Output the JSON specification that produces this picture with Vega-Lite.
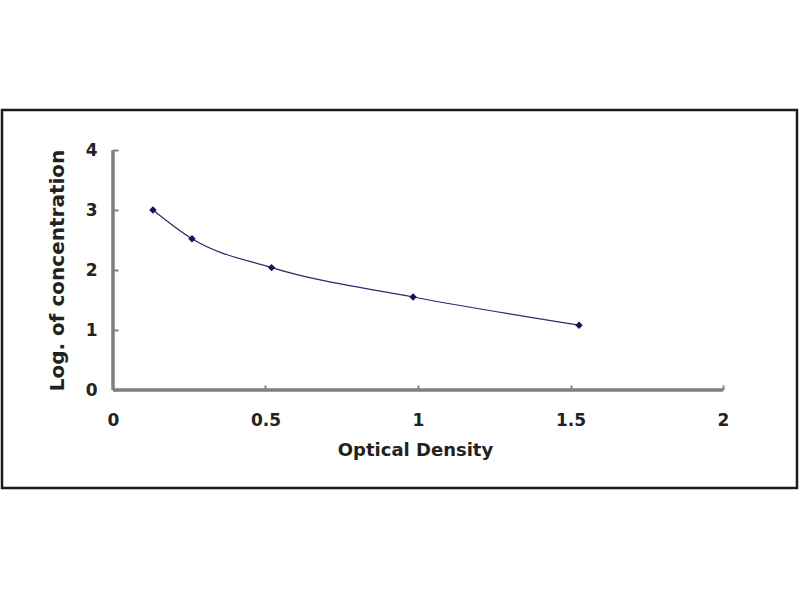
{
  "$schema": "https://vega.github.io/schema/vega-lite/v6.json",
  "description": "Standard curve: log of concentration against optical density.",
  "autosize": "none",
  "padding": {"left": 2, "top": 110, "right": 3, "bottom": 112},
  "width": 795,
  "height": 378,
  "background": "white",
  "config": {
    "view": {"stroke": "#1a1a1a", "strokeWidth": 2.5},
    "axis": {
      "grid": false,
      "domain": false,
      "tickColor": "#808080",
      "tickWidth": 2,
      "labelFont": "DejaVu Sans",
      "labelFontWeight": "bold",
      "labelFontSize": 17,
      "labelColor": "#222222",
      "titleFont": "DejaVu Sans",
      "titleFontWeight": "bold",
      "titleFontSize": 18,
      "titleColor": "#222222"
    }
  },
  "data": {
    "values": [
      {"od": 0.131, "logc": 3.0},
      {"od": 0.259, "logc": 2.52},
      {"od": 0.52, "logc": 2.04},
      {"od": 0.984, "logc": 1.55},
      {"od": 1.528, "logc": 1.08}
    ]
  },
  "layer": [
    {
      "mark": {"type": "rule", "color": "#808080", "strokeWidth": 2.5},
      "encoding": {
        "x": {"datum": 0, "type": "quantitative"},
        "y": {"datum": 0, "type": "quantitative"},
        "y2": {"datum": 4}
      }
    },
    {
      "mark": {"type": "rule", "color": "#808080", "strokeWidth": 2.5},
      "encoding": {
        "y": {"datum": 0, "type": "quantitative"},
        "x": {"datum": 0, "type": "quantitative"},
        "x2": {"datum": 2}
      }
    },
    {
      "mark": {"type": "line", "interpolate": "monotone", "color": "#2a2a6a", "strokeWidth": 1.2},
      "encoding": {
        "x": {
          "field": "od",
          "type": "quantitative",
          "scale": {"domain": [-0.3639, 2.2426], "nice": false, "zero": false},
          "axis": {
            "values": [0, 0.5, 1, 1.5, 2],
            "format": "~g",
            "offset": -98,
            "tickSize": -5,
            "labelPadding": 27,
            "title": "Optical Density",
            "titleX": 413,
            "titleY": 60,
            "titleBaseline": "middle"
          }
        },
        "y": {
          "field": "logc",
          "type": "quantitative",
          "scale": {"domain": [-1.6333, 4.6667], "nice": false, "zero": false},
          "axis": {
            "values": [0, 1, 2, 3, 4],
            "format": "~g",
            "offset": -111,
            "tickSize": -5,
            "labelPadding": 21,
            "title": "Log. of concentration",
            "titleFontSize": 20,
            "titleX": -56,
            "titleY": 160,
            "titleAngle": -90,
            "titleBaseline": "middle"
          }
        }
      }
    },
    {
      "mark": {"type": "point", "shape": "diamond", "filled": true, "size": 55, "color": "#14145a", "opacity": 1},
      "encoding": {
        "x": {"field": "od", "type": "quantitative"},
        "y": {"field": "logc", "type": "quantitative"}
      }
    }
  ]
}
